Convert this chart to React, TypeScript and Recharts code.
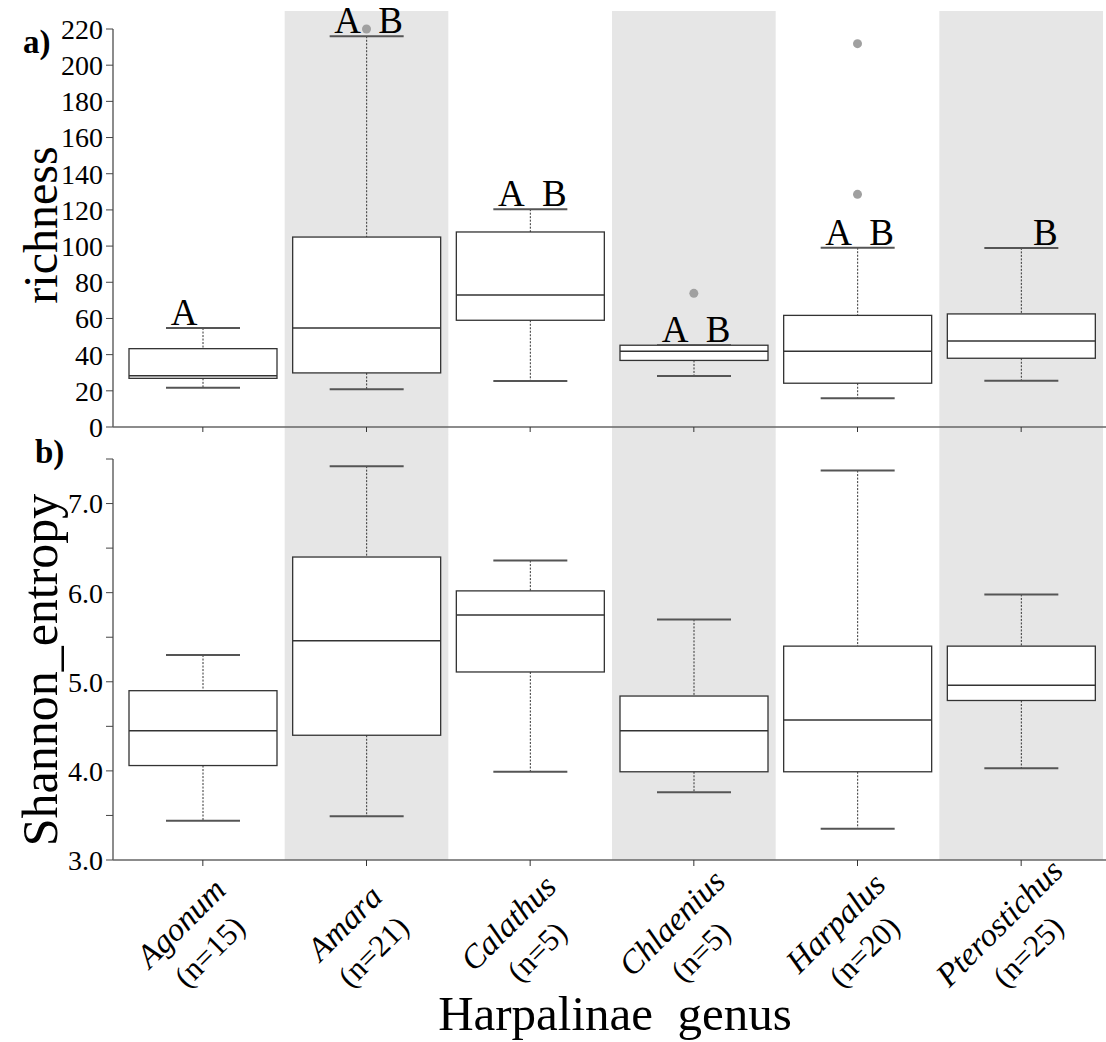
import React from 'react';
import { ComposedChart, Bar, Scatter, XAxis, YAxis, ReferenceArea, LabelList } from 'recharts';

const genera = ['Agonum', 'Amara', 'Calathus', 'Chlaenius', 'Harpalus', 'Pterostichus'];
const sampleSizes = [15, 21, 5, 5, 20, 25];
const shadedGenera = ['Amara', 'Chlaenius', 'Pterostichus'];

// panel a) richness
const richMin = [21.7, 20.8, 25.4, 28.2, 15.9, 25.6];
const richQ1 = [26.9, 29.9, 59, 36.8, 24.2, 38];
const richMedian = [28.3, 54.7, 73, 41.9, 41.9, 47.5];
const richQ3 = [43.3, 105, 107.8, 45.2, 61.7, 62.5];
const richMax = [54.7, 216, 120.4, 45.2, 99.1, 99];
const richOutlier1 = [null, 220, null, 73.9, 211.9, null];
const richOutlier2 = [null, null, null, null, 128.6, null];
const richLetters = ['A', 'AB', 'AB', 'AB', 'AB', 'B'];
const richTicks = [0, 20, 40, 60, 80, 100, 120, 140, 160, 180, 200, 220];

// panel b) Shannon entropy
const shanMin = [3.44, 3.49, 3.99, 3.76, 3.35, 4.03];
const shanQ1 = [4.06, 4.4, 5.11, 3.99, 3.99, 4.79];
const shanMedian = [4.45, 5.46, 5.75, 4.45, 4.57, 4.96];
const shanQ3 = [4.9, 6.4, 6.02, 4.84, 5.4, 5.4];
const shanMax = [5.3, 7.42, 6.36, 5.7, 7.37, 5.98];
const shanTicks = [3, 3.5, 4, 4.5, 5, 5.5, 6, 6.5, 7, 7.5];

const richRows = genera.map((g, i) => ({
  genus: g, n: sampleSizes[i],
  min: richMin[i], q1: richQ1[i], median: richMedian[i], q3: richQ3[i], max: richMax[i],
  out1: richOutlier1[i], out2: richOutlier2[i], letters: richLetters[i],
}));

const shanRows = genera.map((g, i) => ({
  genus: g, n: sampleSizes[i],
  min: shanMin[i], q1: shanQ1[i], median: shanMedian[i], q3: shanQ3[i], max: shanMax[i],
}));

const FONT = '"Liberation Serif", "Times New Roman", serif';
const axisStroke = '#666';

// box drawn inside the [min,max] range bar; inner values placed on the bar's own pixel span
const BoxShape = (props: any) => {
  const { x, y, width, height, payload } = props;
  if (!payload || height == null) return <g />;
  const top = Math.min(y, y + height);
  const h = Math.abs(height);
  const lo = payload.min;
  const hi = payload.max;
  const py = (v: number) => top + (h * (hi - v)) / (hi - lo);
  const cx = x + width / 2;
  const cap = width / 4;
  return (
    <g>
      <line x1={cx} x2={cx} y1={py(hi)} y2={py(payload.q3)} stroke="#333" strokeWidth={1} strokeDasharray="2 1.5" />
      <line x1={cx} x2={cx} y1={py(payload.q1)} y2={py(lo)} stroke="#333" strokeWidth={1} strokeDasharray="2 1.5" />
      <line x1={cx - cap} x2={cx + cap} y1={py(hi)} y2={py(hi)} stroke="#555" strokeWidth={2} />
      <line x1={cx - cap} x2={cx + cap} y1={py(lo)} y2={py(lo)} stroke="#555" strokeWidth={2} />
      <rect x={x} y={py(payload.q3)} width={width} height={py(payload.q1) - py(payload.q3)} fill="#fff" stroke="#333" strokeWidth={1.3} />
      <line x1={x} x2={x + width} y1={py(payload.median)} y2={py(payload.median)} stroke="#333" strokeWidth={1.5} />
    </g>
  );
};

const makeDot = (key: string) => (props: any) => {
  const { cx, cy, payload } = props;
  if (!payload || payload[key] == null) return <g />;
  return <circle cx={cx} cy={cy} r={4.5} fill="#a0a0a0" />;
};

const LetterLabel = (props: any) => {
  const { x, y, width, value } = props;
  if (value == null) return <g />;
  const cx = x + width / 2;
  const st = { fontFamily: FONT, fontSize: 37, fill: '#000' };
  return (
    <g>
      {value.includes('A') && <text x={cx - 19} y={y - 3} textAnchor="middle" style={st}>A</text>}
      {value.includes('B') && <text x={cx + 24} y={y - 3} textAnchor="middle" style={st}>B</text>}
    </g>
  );
};

const GenusTick = (props: any) => {
  const { x, y, payload, index } = props;
  return (
    <g transform={`translate(${x},${y - 8}) rotate(-45)`}>
      <text x={-60} y={40} textAnchor="middle" style={{ fontFamily: FONT, fontSize: 33, fontStyle: 'italic', fill: '#000' }}>
        {payload.value}
      </text>
      <text x={-60} y={80} textAnchor="middle" style={{ fontFamily: FONT, fontSize: 31, fill: '#000' }}>
        {`(n=${sampleSizes[index]})`}
      </text>
    </g>
  );
};

const tickStyle = { fontFamily: FONT, fontSize: 28, fill: '#000' };

export default function App() {
  return (
    <div style={{ position: 'absolute', left: 0, top: 0, width: 1106, height: 1042, background: '#fff' }}>
      <div style={{ position: 'absolute', left: 0, top: 0 }}>
        <ComposedChart width={1106} height={460} data={richRows} margin={{ top: 29, right: 0, bottom: 26, left: 0 }}>
          {shadedGenera.map((g) => (
            <ReferenceArea key={g} x1={g} x2={g} y1={-4} y2={230} ifOverflow="visible" fill="#e6e6e6" fillOpacity={1} stroke="none" />
          ))}
          <XAxis dataKey="genus" type="category" height={7} tickSize={5} tick={() => <g />} padding={{ left: 8, right: 3 }}
            axisLine={{ stroke: axisStroke, strokeWidth: 1.5 }} tickLine={{ stroke: '#333' }} />
          <YAxis type="number" domain={[0, 220]} ticks={richTicks} interval={0} width={113} tickSize={7} tickMargin={3}
            tick={tickStyle} axisLine={{ stroke: axisStroke, strokeWidth: 1.5 }} tickLine={{ stroke: '#444' }}
            label={() => (
              <g>
                <text x={23} y={53} style={{ fontFamily: FONT, fontSize: 33, fontWeight: 'bold' }}>a)</text>
                <text transform="translate(57,225) rotate(-90)" textAnchor="middle" style={{ fontFamily: FONT, fontSize: 48 }}>richness</text>
              </g>
            )} />
          <Bar dataKey={(d: any) => [d.min, d.max]} barSize={148} shape={BoxShape} isAnimationActive={false}>
            <LabelList dataKey="letters" content={LetterLabel} />
          </Bar>
          <Scatter dataKey="out1" shape={makeDot('out1')} isAnimationActive={false} />
          <Scatter dataKey="out2" shape={makeDot('out2')} isAnimationActive={false} />
        </ComposedChart>
      </div>
      <div style={{ position: 'absolute', left: 0, top: 434 }}>
        <ComposedChart width={1106} height={608} data={shanRows} margin={{ top: 25, right: 0, bottom: 0, left: 0 }}>
          {shadedGenera.map((g) => (
            <ReferenceArea key={g} x1={g} x2={g} y1={3} y2={7.78} ifOverflow="visible" fill="#e6e6e6" fillOpacity={1} stroke="none" />
          ))}
          <XAxis dataKey="genus" type="category" height={182} tickSize={6} tickMargin={2} tick={GenusTick} interval={0}
            padding={{ left: 8, right: 3 }} axisLine={{ stroke: axisStroke, strokeWidth: 1.5 }} tickLine={{ stroke: '#333' }}
            label={() => (
              <text x={615} y={596} textAnchor="middle" style={{ fontFamily: FONT, fontSize: 49, whiteSpace: 'pre' }}>{'Harpalinae  genus'}</text>
            )} />
          <YAxis type="number" domain={[3, 7.5]} ticks={shanTicks} interval={0} width={113} tickSize={7} tickMargin={3}
            tick={tickStyle} tickFormatter={(v: number) => (Number.isInteger(v) ? v.toFixed(1) : '')}
            axisLine={{ stroke: axisStroke, strokeWidth: 1.5 }} tickLine={{ stroke: '#444' }}
            label={() => (
              <g>
                <text x={35} y={29} style={{ fontFamily: FONT, fontSize: 33, fontWeight: 'bold' }}>b)</text>
                <text transform="translate(57,236) rotate(-90)" textAnchor="middle" style={{ fontFamily: FONT, fontSize: 50 }}>Shannon_entropy</text>
              </g>
            )} />
          <Bar dataKey={(d: any) => [d.min, d.max]} barSize={148} shape={BoxShape} isAnimationActive={false} />
        </ComposedChart>
      </div>
    </div>
  );
}
